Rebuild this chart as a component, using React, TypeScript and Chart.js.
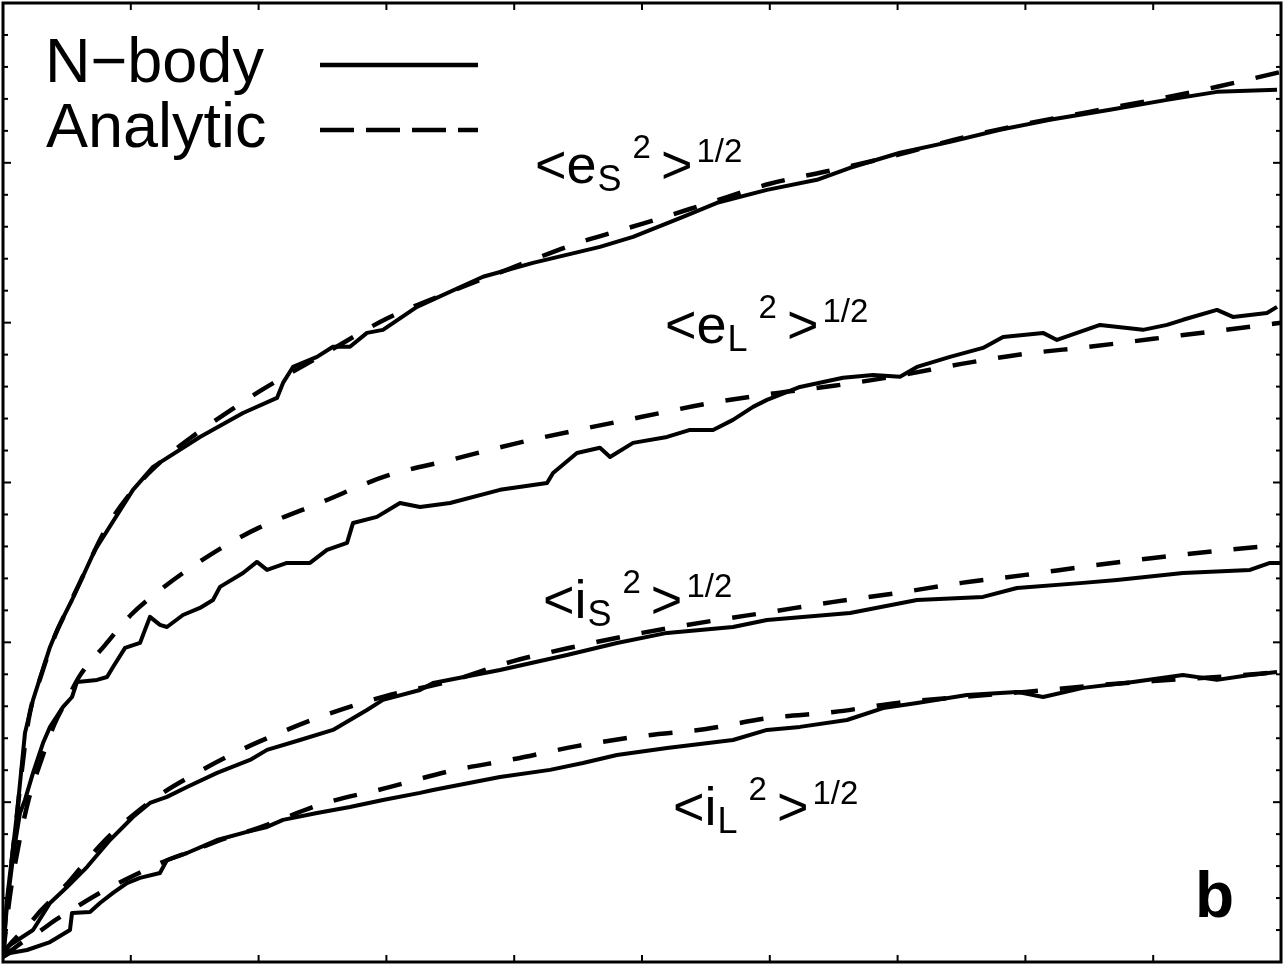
import { useEffect, useRef } from "react";
import { Chart, registerables } from "chart.js";

Chart.register(...registerables);

// ---- Analytic curves (dashed), sampled on a common time grid ----
const ANALYTIC_T = [0, 0.05, 0.1, 0.2, 0.3, 0.4, 0.5, 0.6, 0.8, 1.0, 1.25, 1.5, 1.75, 2.0, 2.5, 3.0, 3.5, 4.0, 4.5, 5.0, 5.5, 6.0, 6.5, 7.0, 7.5, 8.0, 8.5, 9.0, 9.5, 10.0];
const ES_ANALYTIC = [0.044, 0.482, 0.857, 1.514, 1.796, 2.028, 2.203, 2.372, 2.703, 2.935, 3.141, 3.298, 3.435, 3.567, 3.798, 4.024, 4.193, 4.349, 4.499, 4.618, 4.743, 4.869, 4.956, 5.05, 5.156, 5.244, 5.319, 5.394, 5.476, 5.569];
const EL_ANALYTIC = [0.044, 0.388, 0.638, 1.014, 1.264, 1.483, 1.64, 1.79, 1.984, 2.171, 2.34, 2.484, 2.61, 2.716, 2.879, 3.041, 3.141, 3.242, 3.329, 3.411, 3.492, 3.554, 3.605, 3.667, 3.742, 3.805, 3.849, 3.899, 3.949, 3.999];
const IS_ANALYTIC = [0.044, 0.106, 0.15, 0.232, 0.325, 0.407, 0.488, 0.582, 0.763, 0.907, 1.058, 1.176, 1.283, 1.377, 1.539, 1.665, 1.758, 1.884, 1.977, 2.059, 2.128, 2.19, 2.253, 2.309, 2.372, 2.422, 2.478, 2.528, 2.572, 2.61];
const IL_ANALYTIC = [0.031, 0.063, 0.094, 0.15, 0.2, 0.257, 0.307, 0.357, 0.451, 0.532, 0.626, 0.701, 0.776, 0.839, 0.989, 1.089, 1.195, 1.27, 1.352, 1.414, 1.458, 1.527, 1.564, 1.621, 1.658, 1.69, 1.727, 1.758, 1.783, 1.815];

// ---- N-body curves (solid) ----
const ES_NB_T = [0, 0.031, 0.11, 0.172, 0.235, 0.368, 0.43, 0.54, 0.72, 1.017, 1.174, 1.541, 1.878, 2.144, 2.191, 2.269, 2.457, 2.582, 2.715, 2.848, 2.973, 3.239, 3.756, 4.147, 4.671, 4.93, 5.321, 5.587, 5.978, 6.369, 6.628, 7.019, 7.41, 7.801, 8.192, 8.662, 9.108, 9.499, 9.969];
const ES_NB = [0.044, 0.388, 0.932, 1.433, 1.64, 1.971, 2.09, 2.265, 2.578, 2.954, 3.098, 3.285, 3.435, 3.529, 3.623, 3.723, 3.786, 3.849, 3.849, 3.936, 3.955, 4.099, 4.287, 4.374, 4.474, 4.537, 4.662, 4.75, 4.831, 4.894, 4.969, 5.063, 5.131, 5.207, 5.269, 5.332, 5.394, 5.444, 5.457];

const EL_NB_T = [0, 0.031, 0.086, 0.133, 0.172, 0.235, 0.313, 0.368, 0.47, 0.54, 0.579, 0.736, 0.814, 0.861, 0.955, 1.072, 1.111, 1.15, 1.228, 1.283, 1.408, 1.541, 1.643, 1.698, 1.878, 1.987, 2.066, 2.222, 2.402, 2.535, 2.692, 2.739, 2.926, 3.106, 3.263, 3.498, 3.889, 4.257, 4.304, 4.491, 4.671, 4.75, 4.93, 5.196, 5.376, 5.556, 5.712, 5.869, 5.978, 6.236, 6.573, 6.808, 7.019, 7.152, 7.41, 7.668, 7.825, 8.138, 8.247, 8.584, 8.92, 9.108, 9.233, 9.499, 9.624, 9.89, 9.969];
const EL_NB = [0.044, 0.357, 0.701, 0.932, 1.014, 1.183, 1.37, 1.471, 1.596, 1.658, 1.752, 1.765, 1.783, 1.846, 1.965, 1.996, 2.078, 2.159, 2.109, 2.096, 2.171, 2.215, 2.265, 2.347, 2.434, 2.503, 2.453, 2.497, 2.497, 2.578, 2.622, 2.747, 2.785, 2.872, 2.847, 2.872, 2.954, 2.997, 3.06, 3.185, 3.217, 3.16, 3.248, 3.285, 3.329, 3.329, 3.392, 3.473, 3.517, 3.598, 3.655, 3.673, 3.661, 3.723, 3.786, 3.842, 3.911, 3.936, 3.892, 3.986, 3.955, 3.986, 4.018, 4.08, 4.036, 4.061, 4.099];

const IS_NB_T = [0, 0.031, 0.235, 0.368, 0.501, 0.657, 0.837, 1.017, 1.15, 1.283, 1.44, 1.675, 1.933, 2.066, 2.324, 2.582, 2.848, 2.973, 3.263, 3.365, 3.889, 4.413, 4.804, 5.196, 5.712, 5.978, 6.628, 7.152, 7.668, 7.934, 8.451, 8.717, 9.233, 9.757, 9.914, 9.992];
const IS_NB = [0.044, 0.094, 0.2, 0.369, 0.469, 0.594, 0.763, 0.907, 0.995, 1.033, 1.095, 1.183, 1.264, 1.327, 1.389, 1.452, 1.577, 1.64, 1.702, 1.746, 1.827, 1.921, 1.996, 2.059, 2.096, 2.14, 2.184, 2.265, 2.284, 2.34, 2.372, 2.39, 2.434, 2.453, 2.497, 2.497];

const IL_NB_T = [0, 0.055, 0.188, 0.368, 0.524, 0.54, 0.681, 0.759, 0.861, 0.97, 1.072, 1.228, 1.283, 1.44, 1.675, 1.909, 2.066, 2.191, 2.457, 2.715, 2.973, 3.263, 3.365, 3.889, 4.28, 4.538, 4.804, 5.196, 5.712, 5.978, 6.236, 6.604, 6.886, 7.152, 7.543, 7.934, 8.138, 8.451, 8.842, 9.233, 9.499, 9.757, 9.969];
const IL_NB = [0.031, 0.056, 0.075, 0.125, 0.2, 0.307, 0.313, 0.369, 0.432, 0.494, 0.526, 0.557, 0.638, 0.682, 0.763, 0.814, 0.845, 0.889, 0.932, 0.97, 1.014, 1.058, 1.076, 1.158, 1.202, 1.245, 1.295, 1.339, 1.389, 1.452, 1.471, 1.514, 1.589, 1.621, 1.671, 1.69, 1.658, 1.715, 1.752, 1.796, 1.765, 1.796, 1.815];

// ---- Axis ticks (no labels) ----
const X_TICKS = [1, 2, 3, 4, 5, 6, 7, 8, 9];
const Y_MAJOR = [1, 2, 3, 4, 5];
const Y_MINOR = [0.2, 0.4, 0.6, 0.8, 1.2, 1.4, 1.6, 1.8, 2.2, 2.4, 2.6, 2.8, 3.2, 3.4, 3.6, 3.8, 4.2, 4.4, 4.6, 4.8, 5.2, 5.4, 5.6, 5.8];

// ---- Text ----
const LEGEND_LABELS = ["N\u2212body", "Analytic"];
const CURVE_BASE = ["<e", "<e", "<i", "<i"];
const CURVE_SUB = ["S", "L", "S", "L"];
const CURVE_SUP = "2";
const CURVE_CLOSE = ">";
const CURVE_POW = "1/2";
const PANEL_TAG = "b";

// label anchors (data coordinates)
const LABEL_ANCHORS = [
  { t: 4.163, y: 4.875 },
  { t: 5.18, y: 3.874 },
  { t: 4.225, y: 2.153 },
  { t: 5.243, y: 0.857 },
];

const FONT = '"Liberation Sans", Arial, Helvetica, sans-serif';

function pts(xs: number[], ys: number[]) {
  return xs.map((x, i) => ({ x, y: ys[i] }));
}

const overlayPlugin = {
  id: "overlay",
  afterDraw(chart: any) {
    const { ctx, chartArea: a, scales } = chart;
    const xs = scales.x;
    const ys = scales.y;
    ctx.save();
    ctx.strokeStyle = "#000";
    ctx.fillStyle = "#000";

    const seg = (x1: number, y1: number, x2: number, y2: number) => {
      ctx.beginPath();
      ctx.moveTo(x1, y1);
      ctx.lineTo(x2, y2);
      ctx.stroke();
    };

    // ticks
    ctx.lineWidth = 2;
    X_TICKS.forEach((v) => {
      const px = xs.getPixelForValue(v);
      seg(px, a.bottom, px, a.bottom - 7);
      seg(px, a.top, px, a.top + 7);
    });
    Y_MINOR.forEach((v) => {
      const py = ys.getPixelForValue(v);
      seg(a.left, py, a.left + 5, py);
      seg(a.right, py, a.right - 5, py);
    });
    Y_MAJOR.forEach((v) => {
      const py = ys.getPixelForValue(v);
      seg(a.left, py, a.left + 8, py);
      seg(a.right, py, a.right - 8, py);
    });

    // frame
    ctx.lineWidth = 3;
    ctx.strokeRect(a.left, a.top, a.right - a.left, a.bottom - a.top);

    // legend
    ctx.textBaseline = "alphabetic";
    ctx.textAlign = "left";
    ctx.font = `63px ${FONT}`;
    ctx.fillText(LEGEND_LABELS[0], 45, 82);
    ctx.fillText(LEGEND_LABELS[1], 46, 147);
    ctx.lineWidth = 4.5;
    ctx.lineCap = "butt";
    seg(320, 65, 478, 65);
    ctx.setLineDash([34, 12]);
    seg(320, 130, 478, 130);
    ctx.setLineDash([]);

    // curve labels
    LABEL_ANCHORS.forEach((p, i) => {
      let x = xs.getPixelForValue(p.t);
      const y = ys.getPixelForValue(p.y);
      ctx.font = `54px ${FONT}`;
      ctx.fillText(CURVE_BASE[i], x, y);
      x += ctx.measureText(CURVE_BASE[i]).width + 1;
      ctx.font = `36px ${FONT}`;
      ctx.fillText(CURVE_SUB[i], x, y + 8);
      x += ctx.measureText(CURVE_SUB[i]).width + 11;
      ctx.font = `33px ${FONT}`;
      ctx.fillText(CURVE_SUP, x, y - 25);
      x += ctx.measureText(CURVE_SUP).width + 10;
      ctx.font = `54px ${FONT}`;
      ctx.fillText(CURVE_CLOSE, x, y);
      x += ctx.measureText(CURVE_CLOSE).width + 4;
      ctx.font = `33px ${FONT}`;
      ctx.fillText(CURVE_POW, x, y - 21);
    });

    // panel tag
    ctx.font = `bold 64px ${FONT}`;
    ctx.fillText(PANEL_TAG, 1195, 917);

    ctx.restore();
  },
};

export default function App() {
  const ref = useRef<HTMLCanvasElement>(null);

  useEffect(() => {
    const solid = {
      borderColor: "#000",
      borderWidth: 4,
      pointRadius: 0,
      tension: 0,
      fill: false,
      borderJoinStyle: "round" as const,
    };
    const dashed = {
      borderColor: "#000",
      borderWidth: 4.5,
      pointRadius: 0,
      fill: false,
      cubicInterpolationMode: "monotone" as const,
      borderDash: [24, 22],
      borderCapStyle: "butt" as const,
    };
    const chart = new Chart(ref.current as HTMLCanvasElement, {
      type: "line",
      data: {
        datasets: [
          { label: "es N-body", data: pts(ES_NB_T, ES_NB), ...solid },
          { label: "es analytic", data: pts(ANALYTIC_T, ES_ANALYTIC), ...dashed },
          { label: "eL N-body", data: pts(EL_NB_T, EL_NB), ...solid },
          { label: "eL analytic", data: pts(ANALYTIC_T, EL_ANALYTIC), ...dashed },
          { label: "is N-body", data: pts(IS_NB_T, IS_NB), ...solid },
          { label: "is analytic", data: pts(ANALYTIC_T, IS_ANALYTIC), ...dashed },
          { label: "iL N-body", data: pts(IL_NB_T, IL_NB), ...solid },
          { label: "iL analytic", data: pts(ANALYTIC_T, IL_ANALYTIC), ...dashed },
        ],
      },
      options: {
        animation: false,
        responsive: false,
        devicePixelRatio: 1,
        events: [],
        layout: { padding: { left: 3, top: 3, right: 4, bottom: 6 } },
        plugins: { legend: { display: false }, tooltip: { enabled: false } },
        scales: {
          x: { type: "linear", min: 0, max: 10, display: false },
          y: { type: "linear", min: 0, max: 6, display: false },
        },
      },
      plugins: [overlayPlugin],
    });
    return () => chart.destroy();
  }, []);

  return (
    <div style={{ position: "absolute", left: 0, top: 0, width: 1285, height: 968, background: "#fff" }}>
      <canvas ref={ref} width={1285} height={968} style={{ display: "block" }} />
    </div>
  );
}
